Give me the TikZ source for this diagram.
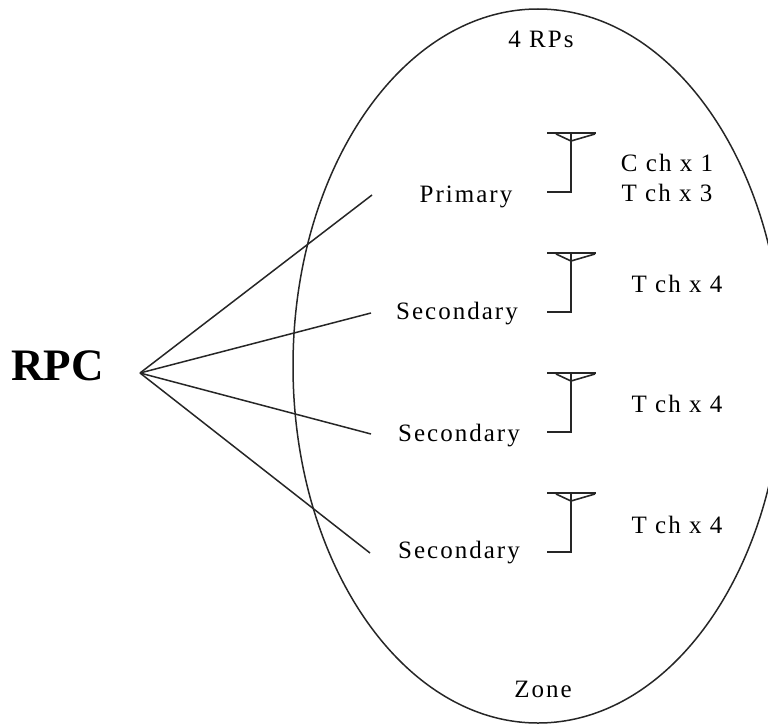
\documentclass[tikz,border=0pt]{standalone}
\usepackage{fontspec}
\setmainfont{Liberation Serif}
\newfontfamily\lblfont[LetterSpace=8]{Liberation Serif}
\begin{document}
\begin{tikzpicture}[x=1pt,y=-1pt,
  lbl/.style={font=\lblfont\fontsize{25}{28}\selectfont, anchor=base, inner sep=0pt},
  wire/.style={line width=1.5pt, black!85},
  ant/.style={line width=1.6pt, black!85}]
\useasboundingbox (0,0) rectangle (768,725);
\begin{scope}
\clip (0,0) rectangle (768,725);
\draw[wire] (538,366) ellipse [x radius=245, y radius=357];
\end{scope}

\node[anchor=base, inner sep=0pt, font=\bfseries\fontsize{45}{50}\selectfont] (rpc) at (57.5,380) {RPC};
\coordinate (hub) at (140,373);
\coordinate (e1) at (372,195);
\coordinate (e2) at (371,313);
\coordinate (e3) at (371,434);
\coordinate (e4) at (370,553);
\foreach \e in {e1,e2,e3,e4} \draw[wire] (hub) -- (\e);

\node[lbl] (rps) at (541,48) {4 RPs};
\node[lbl] (zone) at (543,697) {Zone};

\node[lbl] (prim) at (466,202) {Primary};
\node[lbl] (sec1) at (457,319) {Secondary};
\node[lbl] (sec2) at (459,441) {Secondary};
\node[lbl] (sec3) at (459,558) {Secondary};

\node[lbl] (c1) at (667,171) {C ch x 1};
\node[lbl] (t3) at (667,201) {T ch x 3};
\node[lbl] (t4a) at (677,292) {T ch x 4};
\node[lbl] (t4b) at (677,412) {T ch x 4};
\node[lbl] (t4c) at (677,533) {T ch x 4};

\foreach \t in {133,253,373,493} {
  \draw[ant] (547,\t) -- (596,\t);
  \draw[ant] (556,\t+1) -- (571,\t+8) -- (595,\t+1);
  \draw[ant] (571,\t) -- (571,\t+59) -- (547,\t+59);
}
\end{tikzpicture}
\end{document}
